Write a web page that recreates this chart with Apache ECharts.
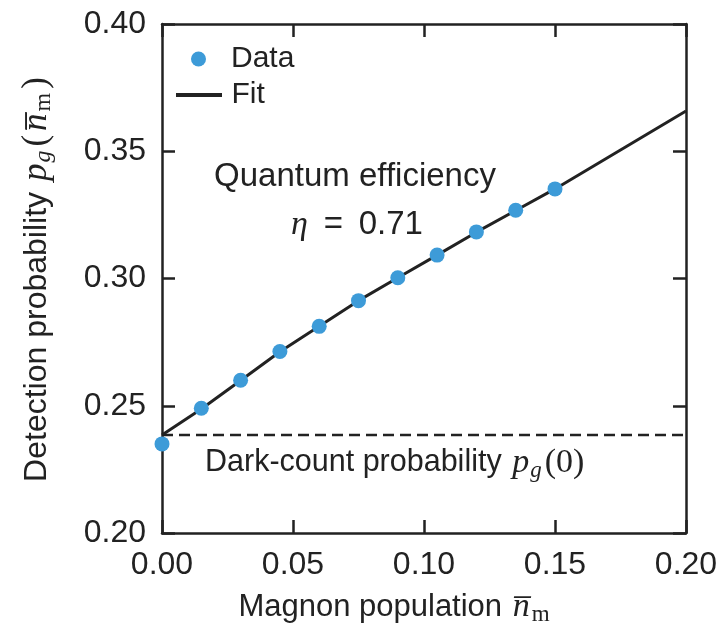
<!DOCTYPE html>
<html>
<head>
<meta charset="utf-8">
<script src="https://cdn.jsdelivr.net/npm/echarts@6/dist/echarts.min.js"></script>
<style>html,body{margin:0;padding:0;background:#fff;}#c{width:723px;height:627px;}</style>
</head>
<body>
<div id="c"></div>
<script>
const magnon = [0, 0.015, 0.03, 0.045, 0.06, 0.075, 0.09, 0.105, 0.12, 0.135, 0.15];
const detection = [0.235, 0.249, 0.260, 0.2713, 0.2812, 0.2913, 0.3003, 0.3092, 0.3183, 0.3268, 0.3352];
const fitX = [0, 0.015, 0.03, 0.045, 0.06, 0.075, 0.09, 0.105, 0.12, 0.135, 0.15, 0.20];
const fitY = [0.2385, 0.2487, 0.2599, 0.2712, 0.2812, 0.2913, 0.3003, 0.3092, 0.3182, 0.3267, 0.3352, 0.3658];
const darkCount = 0.2385;
const xRange = [0, 0.20];
const yRange = [0.20, 0.40];

const INK = '#222';
const BLUE = '#3d9bd8';
const SANS = 'Liberation Sans, Arial, Helvetica, sans-serif';
const SERIF = 'Liberation Serif, DejaVu Serif, serif';

function richMath(sz) {
  return {
    t: {fontFamily: SANS, fontSize: sz, color: INK, lineHeight: 38},
    i: {fontFamily: SERIF, fontStyle: 'italic', fontSize: sz + 3, color: INK, lineHeight: 38, padding: [0, 1, 0, 2]},
    r: {fontFamily: SERIF, fontSize: sz + 3, color: INK, lineHeight: 38, padding: [0, 2, 0, 2]},
    sub: {fontFamily: SERIF, fontStyle: 'italic', fontSize: sz - 8, color: INK, verticalAlign: 'bottom', lineHeight: 15, padding: [0, 2, 0, 0]},
    subr: {fontFamily: SERIF, fontSize: sz - 8, color: INK, verticalAlign: 'bottom', lineHeight: 15, padding: [0, 2, 0, 1]}
  };
}

function mkAxis(extra) {
  return Object.assign({
    type: 'value',
    axisLine: {show: true, onZero: false, lineStyle: {color: INK, width: 2.5}},
    axisTick: {show: true, inside: true, length: 13, lineStyle: {color: INK, width: 2.5}},
    splitLine: {show: false}
  }, extra);
}

const chart = echarts.init(document.getElementById('c'));
const option = {
  animation: false,
  backgroundColor: '#fff',
  grid: {left: 162, right: 37, top: 24, bottom: 94, outerBoundsMode: 'none', containLabel: false},
  legend: [
    {
      data: [{name: 'Data', icon: 'circle', itemStyle: {opacity: 1}}],
      left: 191, top: 44, padding: 0, itemWidth: 15, itemHeight: 15,
      textStyle: {fontFamily: SANS, fontSize: 30, color: INK, padding: [0, 0, 0, 20]}
    },
    {
      data: [{name: 'Fit', icon: 'path://M0,0H46V4H0Z'}],
      left: 176, top: 80, padding: 0, itemWidth: 47, itemHeight: 4,
      textStyle: {fontFamily: SANS, fontSize: 30, color: INK, padding: [0, 0, 0, 4]}
    }
  ],
  xAxis: [
    mkAxis({
      min: xRange[0], max: xRange[1], interval: 0.05, position: 'bottom',
      axisLabel: {fontFamily: SANS, fontSize: 32, color: INK, margin: 16, formatter: v => v.toFixed(2)},
      name: '{t|Magnon population }{i|n\u0305}{subr|m}',
      nameLocation: 'middle', nameGap: 55,
      nameTextStyle: {rich: richMath(31), padding: [0, 58, 0, 0]}
    }),
    mkAxis({
      min: xRange[0], max: xRange[1], interval: 0.05, position: 'top',
      axisLabel: {show: false}
    })
  ],
  yAxis: [
    mkAxis({
      min: yRange[0], max: yRange[1], interval: 0.05, position: 'left',
      axisLabel: {fontFamily: SANS, fontSize: 32, color: INK, margin: 16, formatter: v => v.toFixed(2)},
      name: '{t|Detection probability }{i|p}{sub|g}{r|(}{i|n\u0305}{subr|m}{r|)}',
      nameLocation: 'middle', nameGap: 106, nameRotate: 90,
      nameTextStyle: {rich: richMath(32)}
    }),
    mkAxis({
      min: yRange[0], max: yRange[1], interval: 0.05, position: 'right',
      axisLabel: {show: false}
    })
  ],
  series: [
    {
      name: 'Dark',
      type: 'line',
      data: xRange.map(x => [x, darkCount]),
      showSymbol: false, symbol: 'none',
      lineStyle: {color: INK, width: 2.5, type: [11, 6]},
      z: 1
    },
    {
      name: 'Fit',
      type: 'line',
      data: fitX.map((x, i) => [x, fitY[i]]),
      showSymbol: false, symbol: 'none',
      itemStyle: {color: INK},
      lineStyle: {color: INK, width: 3},
      z: 2
    },
    {
      name: 'Data',
      type: 'scatter',
      data: magnon.map((x, i) => [x, detection[i]]),
      symbolSize: 15,
      itemStyle: {color: BLUE, opacity: 1},
      z: 3
    }
  ],
  graphic: [
    {
      type: 'text', x: 355, y: 177, z: 10,
      style: {text: 'Quantum efficiency', fontFamily: SANS, fontSize: 33, fill: INK, align: 'center', verticalAlign: 'middle'}
    },
    {
      type: 'text', x: 357, y: 225, z: 10,
      style: {
        text: '{i|\u03b7}{t| \u2009=\u2009 0.71}', align: 'center', verticalAlign: 'middle',
        rich: {
          i: {fontFamily: SERIF, fontStyle: 'italic', fontSize: 34, fill: INK},
          t: {fontFamily: SANS, fontSize: 33, fill: INK}
        }
      }
    },
    {
      type: 'text', x: 205, y: 463, z: 10,
      style: {
        text: '{t|Dark-count probability }{i|p}{sub|g}{r|(0)}', align: 'left', verticalAlign: 'middle',
        rich: {
          t: {fontFamily: SANS, fontSize: 30.5, fill: INK, lineHeight: 38},
          i: {fontFamily: SERIF, fontStyle: 'italic', fontSize: 34, fill: INK, lineHeight: 38, padding: [0, 1, 0, 2]},
          r: {fontFamily: SERIF, fontSize: 34, fill: INK, lineHeight: 38, padding: [0, 0, 0, 2]},
          sub: {fontFamily: SERIF, fontStyle: 'italic', fontSize: 23, fill: INK, verticalAlign: 'bottom', lineHeight: 15, padding: [0, 1, 0, 0]}
        }
      }
    }
  ]
};
chart.setOption(option);
</script>
</body>
</html>
